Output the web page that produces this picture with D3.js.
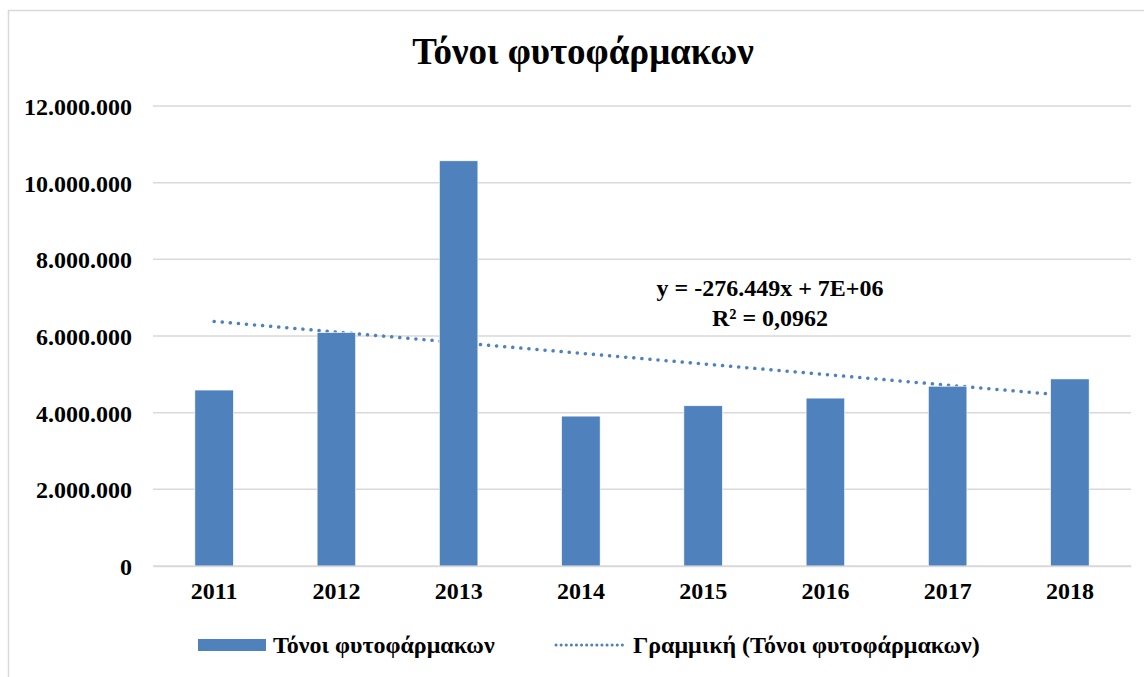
<!DOCTYPE html>
<html>
<head>
<meta charset="utf-8">
<script src="https://cdn.jsdelivr.net/npm/d3@7"></script>
<style>
  body { margin: 0; background: #fff; }
  text { font-family: "Liberation Serif", "Times New Roman", serif; font-weight: bold; fill: #000; }
</style>
</head>
<body>
<svg id="chart"></svg>
<script>
// data
var years = ["2011", "2012", "2013", "2014", "2015", "2016", "2017", "2018"]
var tonnes = [4590000, 6090000, 10570000, 3910000, 4180000, 4380000, 4690000, 4880000]
var yTicks = [0, 2000000, 4000000, 6000000, 8000000, 10000000, 12000000]
var title = "Τόνοι φυτοφάρμακων"
var seriesName = "Τόνοι φυτοφάρμακων"
var trendName = "Γραμμική (Τόνοι φυτοφάρμακων)"
var eqLine1 = "y = -276.449x + 7E+06"
var eqLine2 = "R² = 0,0962"

var W = 1144, H = 677
var margin = {top: 106, right: 13, bottom: 111, left: 153}
var width = W - margin.left - margin.right
var height = H - margin.top - margin.bottom
var blue = "#4F81BD", grid = "#d9d9d9"
var fs = "24px"

var svg = d3.select("#chart").attr("width", W).attr("height", H)

// chart area border (only top and left visible in frame)
svg.append("path")
    .attr("d", "M8.5," + H + "V10.5H" + W)
    .attr("fill", "none")
    .attr("stroke", grid)
    .attr("stroke-width", 1.5)

svg.append("text")
    .attr("x", 583).attr("y", 64)
    .attr("text-anchor", "middle")
    .style("font-size", "37px")
    .text(title)

var g = svg.append("g").attr("transform", `translate(${margin.left},${margin.top})`)

var x = d3.scaleBand().domain(years).range([0, width]).paddingInner(0.685).paddingOuter(0.3425)
var y = d3.scaleLinear().domain([0, 12000000]).range([height, 0])

// gridlines
g.append("g").selectAll("line").data(yTicks).join("line")
    .attr("x1", 0).attr("x2", width)
    .attr("y1", d => y(d)).attr("y2", d => y(d))
    .attr("stroke", grid).attr("stroke-width", 1.5)

// y axis labels
var fmt = d3.formatLocale({decimal: ",", thousands: ".", grouping: [3], currency: ["", ""]}).format(",d")
var yAxis = g.append("g")
    .call(d3.axisLeft(y).tickValues(yTicks).tickFormat(fmt).tickSize(0).tickPadding(21))
yAxis.select(".domain").remove()
yAxis.selectAll("text").style("font-size", fs).attr("dy", "0.35em")

// linear trend computed from the series (x = 1..n)
var n = tonnes.length
var xs = d3.range(1, n + 1)
var mx = d3.mean(xs), my = d3.mean(tonnes)
var slope = d3.sum(xs, (v, i) => (v - mx) * (tonnes[i] - my)) / d3.sum(xs, v => (v - mx) * (v - mx))
var icpt = my - slope * mx
var cx = i => x(years[i]) + x.bandwidth() / 2

g.append("line")
    .attr("x1", cx(0)).attr("y1", y(icpt + slope * 1))
    .attr("x2", cx(n - 1)).attr("y2", y(icpt + slope * n))
    .attr("stroke", blue).attr("stroke-width", 3.5)
    .attr("stroke-linecap", "round")
    .attr("stroke-dasharray", "0.1 8")

// bars
g.append("g").selectAll("rect").data(tonnes).join("rect")
    .attr("x", (d, i) => x(years[i]))
    .attr("y", d => y(d))
    .attr("width", x.bandwidth())
    .attr("height", d => height - y(d))
    .attr("fill", blue)
    .attr("stroke", "#fff").attr("stroke-width", 0.6)

// x axis
var xAxis = g.append("g").attr("transform", `translate(0,${height})`)
    .call(d3.axisBottom(x).tickSize(0).tickPadding(16))
xAxis.select(".domain").attr("stroke", grid).attr("stroke-width", 1.5)
xAxis.selectAll("text").style("font-size", fs)

// equation label
svg.append("text").attr("x", 770).attr("y", 296).attr("text-anchor", "middle")
    .style("font-size", fs).text(eqLine1)
svg.append("text").attr("x", 770).attr("y", 326).attr("text-anchor", "middle")
    .style("font-size", fs).text(eqLine2)

// legend
var leg = svg.append("g").attr("transform", "translate(0,645)")
leg.append("rect").attr("x", 198).attr("y", -6).attr("width", 68).attr("height", 12).attr("fill", blue)
leg.append("text").attr("x", 273).attr("y", 0).attr("dy", "0.35em").style("font-size", fs).text(seriesName)
leg.append("line").attr("x1", 556).attr("x2", 626).attr("y1", 0).attr("y2", 0)
    .attr("stroke", blue).attr("stroke-width", 3).attr("stroke-linecap", "round")
    .attr("stroke-dasharray", "0.1 5")
leg.append("text").attr("x", 633).attr("y", 0).attr("dy", "0.35em").style("font-size", fs).text(trendName)
</script>
</body>
</html>
